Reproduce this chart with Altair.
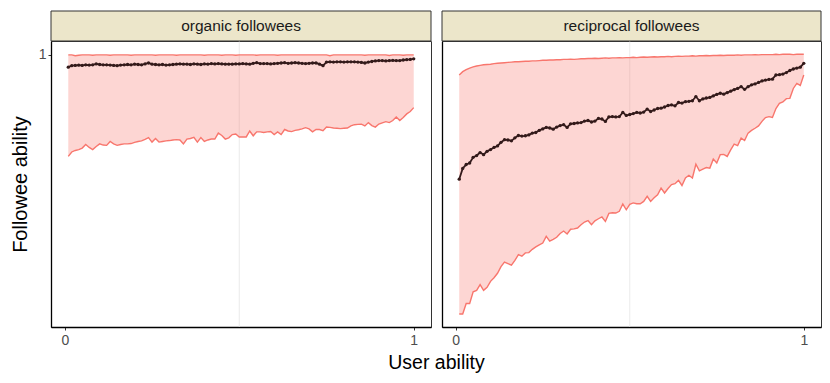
import altair as alt
import pandas as pd

PANELS = ["organic followees", "reciprocal followees"]
X_TITLE = "User ability"
Y_TITLE = "Followee ability"
X_TICKS = [0, 1]
Y_TICKS = [1]
MINOR_X = [0.5]

X = [round(i / 100, 2) for i in range(1, 101)]

ORG_UPPER = [0.999,0.999,0.996,0.998,0.999,0.999,0.999,0.998,0.999,0.999,
0.999,0.999,0.998,0.999,0.999,0.999,0.999,0.999,0.998,0.999,
0.999,0.999,0.999,0.999,0.999,0.998,0.999,0.999,0.999,0.999,
0.999,0.998,0.999,0.999,0.999,0.999,0.999,0.999,0.999,0.998,
0.999,0.999,0.999,0.999,0.998,0.999,0.999,0.999,0.998,0.999,
0.999,0.999,0.999,0.999,0.998,0.999,0.999,0.999,0.999,0.999,
0.998,0.999,0.999,0.999,0.999,0.999,0.999,0.999,0.999,0.999,
0.999,0.999,0.999,0.999,0.999,0.996,0.999,0.999,0.999,0.999,
0.999,0.999,0.999,0.999,0.999,0.998,0.999,0.999,0.999,0.999,
0.999,0.999,0.997,0.999,0.999,0.999,0.998,0.999,0.999,0.999]

ORG_MEAN = [0.958,0.963,0.964,0.965,0.964,0.966,0.965,0.966,0.969,0.967,
0.966,0.966,0.965,0.964,0.963,0.965,0.966,0.967,0.966,0.968,
0.967,0.966,0.969,0.972,0.968,0.967,0.966,0.967,0.965,0.966,
0.967,0.968,0.969,0.968,0.968,0.967,0.969,0.968,0.967,0.969,
0.968,0.970,0.969,0.970,0.969,0.968,0.968,0.968,0.969,0.969,
0.970,0.969,0.968,0.971,0.973,0.970,0.970,0.970,0.969,0.970,
0.971,0.972,0.973,0.971,0.972,0.973,0.972,0.971,0.970,0.971,
0.972,0.972,0.968,0.963,0.975,0.976,0.975,0.976,0.976,0.975,
0.976,0.976,0.976,0.975,0.974,0.972,0.975,0.977,0.979,0.980,
0.980,0.979,0.980,0.981,0.980,0.980,0.982,0.983,0.984,0.986]

ORG_LOWER = [0.660,0.675,0.680,0.683,0.688,0.700,0.690,0.683,0.693,0.702,
0.698,0.697,0.710,0.702,0.697,0.700,0.702,0.702,0.703,0.707,
0.710,0.712,0.717,0.723,0.708,0.720,0.708,0.710,0.712,0.713,
0.715,0.716,0.715,0.702,0.718,0.720,0.724,0.708,0.723,0.710,
0.715,0.718,0.718,0.738,0.730,0.718,0.722,0.733,0.735,0.725,
0.725,0.725,0.745,0.729,0.742,0.742,0.740,0.742,0.743,0.733,
0.742,0.733,0.750,0.745,0.743,0.747,0.749,0.752,0.756,0.752,
0.742,0.750,0.750,0.746,0.758,0.757,0.755,0.754,0.753,0.754,
0.755,0.762,0.766,0.767,0.768,0.762,0.773,0.763,0.758,0.768,
0.772,0.776,0.773,0.780,0.792,0.780,0.790,0.802,0.810,0.823]

REC_UPPER = [0.932,0.943,0.950,0.955,0.959,0.962,0.964,0.966,0.967,0.968,
0.970,0.971,0.972,0.973,0.974,0.975,0.976,0.976,0.977,0.978,
0.978,0.979,0.979,0.980,0.981,0.981,0.982,0.982,0.983,0.983,
0.984,0.984,0.985,0.984,0.985,0.986,0.986,0.987,0.987,0.988,
0.987,0.988,0.989,0.988,0.989,0.989,0.990,0.989,0.990,0.990,
0.991,0.990,0.991,0.992,0.991,0.992,0.993,0.992,0.993,0.993,
0.994,0.993,0.994,0.995,0.994,0.995,0.995,0.996,0.995,0.996,
0.996,0.997,0.996,0.997,0.997,0.998,0.997,0.998,0.998,0.998,
0.999,0.998,0.999,0.999,0.999,1.000,0.999,1.000,1.000,1.000,
1.000,1.001,1.000,1.001,1.001,1.001,1.000,1.001,1.001,1.001]

REC_MEAN = [0.584,0.620,0.633,0.638,0.657,0.663,0.673,0.666,0.677,0.683,
0.690,0.695,0.707,0.716,0.715,0.712,0.722,0.730,0.728,0.729,
0.732,0.738,0.740,0.747,0.752,0.757,0.755,0.751,0.758,0.763,
0.766,0.757,0.769,0.770,0.772,0.773,0.778,0.780,0.775,0.778,
0.787,0.785,0.777,0.792,0.793,0.792,0.793,0.807,0.797,0.800,
0.803,0.807,0.805,0.808,0.818,0.810,0.815,0.820,0.821,0.825,
0.830,0.832,0.829,0.840,0.838,0.843,0.844,0.846,0.860,0.846,
0.852,0.855,0.857,0.862,0.867,0.871,0.868,0.873,0.878,0.883,
0.887,0.893,0.884,0.893,0.899,0.902,0.907,0.912,0.915,0.917,
0.918,0.932,0.933,0.935,0.940,0.947,0.952,0.955,0.958,0.971]

REC_LOWER = [0.134,0.134,0.169,0.169,0.208,0.213,0.232,0.213,0.223,0.243,
0.255,0.270,0.292,0.307,0.302,0.297,0.313,0.332,0.327,0.338,
0.339,0.350,0.358,0.365,0.371,0.393,0.377,0.383,0.390,0.403,
0.411,0.401,0.417,0.418,0.421,0.432,0.441,0.446,0.432,0.445,
0.452,0.458,0.443,0.470,0.472,0.471,0.477,0.501,0.482,0.500,
0.505,0.502,0.502,0.510,0.527,0.510,0.522,0.532,0.554,0.538,
0.553,0.566,0.569,0.580,0.563,0.588,0.597,0.588,0.634,0.612,
0.618,0.623,0.621,0.651,0.638,0.666,0.667,0.660,0.682,0.701,
0.696,0.721,0.713,0.738,0.747,0.754,0.762,0.777,0.790,0.793,
0.790,0.820,0.837,0.842,0.853,0.854,0.887,0.904,0.897,0.932]

FONT = "Liberation Sans"
RED = "#F8766D"
DARK = "#331A1A"
STRIP_FILL = "#ECE6CA"
H = 286
X_DOMAIN = [-0.0395, 1.0495]
Y_DOMAIN = [0.0906, 1.0454]
LABEL_SIZE = 14


def panel(name, lower, upper, mean, width, first):
    df = pd.DataFrame({"x": X, "lower": lower, "upper": upper, "mean": mean})
    xs = alt.Scale(domain=X_DOMAIN, nice=False, zero=False)
    ys = alt.Scale(domain=Y_DOMAIN, nice=False, zero=False)
    xaxis = alt.Axis(values=X_TICKS, format="d", title=None, grid=False,
                     tickSize=3, labelPadding=3, labelFontSize=LABEL_SIZE,
                     labelColor="#4D4D4D", labelFont=FONT)
    if first:
        yaxis = alt.Axis(values=Y_TICKS, format="d", title=Y_TITLE, grid=False,
                         tickSize=3, labelPadding=2, titlePadding=8,
                         labelFontSize=LABEL_SIZE, labelColor="#4D4D4D",
                         labelFont=FONT)
    else:
        yaxis = alt.Axis(values=Y_TICKS, title=None, grid=False, labels=False,
                         ticks=False)
    xe = alt.X("x:Q", scale=xs, axis=xaxis)
    base = alt.Chart(df)
    grid = alt.Chart(pd.DataFrame({"x": MINOR_X})).mark_rule(
        color="#E6E6E6", strokeWidth=0.8
    ).encode(x=xe, y=alt.value(0), y2=alt.value(H))
    area = base.mark_area(color=RED, opacity=0.3).encode(
        x=xe, y=alt.Y("lower:Q", scale=ys, axis=yaxis), y2="upper:Q")
    lo = base.mark_line(color=RED, strokeWidth=1.4).encode(
        x=xe, y=alt.Y("lower:Q", scale=ys, axis=yaxis))
    hi = base.mark_line(color=RED, strokeWidth=1.4).encode(
        x=xe, y=alt.Y("upper:Q", scale=ys, axis=yaxis))
    ml = base.mark_line(color=DARK, strokeWidth=1.8).encode(
        x=xe, y=alt.Y("mean:Q", scale=ys, axis=yaxis))
    mp = base.mark_point(filled=True, size=11, color=DARK, opacity=1).encode(
        x=xe, y=alt.Y("mean:Q", scale=ys, axis=yaxis))
    sdf = pd.DataFrame({"label": [name]})
    strip = alt.Chart(sdf).mark_rect(fill=STRIP_FILL, stroke="#333333",
                                     strokeWidth=1).encode(
        x=alt.value(0), x2=alt.value(width), y=alt.value(-30), y2=alt.value(0))
    stext = alt.Chart(sdf).mark_text(font=FONT, fontSize=15.5, color="#1A1A1A",
                                     baseline="middle", align="center").encode(
        text="label:N", x=alt.value(width / 2), y=alt.value(-15))
    layers = [grid, area, lo, hi, ml, mp, strip, stext]
    if first:
        tdf = pd.DataFrame({"t": [X_TITLE]})
        xt = alt.Chart(tdf).mark_text(font=FONT, fontSize=19.5, color="black",
                                      baseline="alphabetic", align="center").encode(
            text="t:N", x=alt.value(width + 5.5), y=alt.value(H + 42))
        layers.append(xt)
    return alt.layer(*layers).properties(width=width, height=H)


left = panel(PANELS[0], ORG_LOWER, ORG_UPPER, ORG_MEAN, 380, True)
right = panel(PANELS[1], REC_LOWER, REC_UPPER, REC_MEAN, 379, False)

chart = alt.hconcat(left, right, spacing=11, bounds="flush").properties(
    padding={"left": 1, "top": 2, "right": 0, "bottom": 0}
).configure_view(stroke="#333333", strokeWidth=1).configure_axis(
    domainColor="black", domainWidth=1.3, tickColor="#333333", tickWidth=1,
    labelFont=FONT, labelFontSize=LABEL_SIZE, labelColor="#4D4D4D",
    titleFont=FONT, titleFontSize=20, titleFontWeight="normal", titleColor="black"
)

chart.save("out.html", embed_options={"renderer": "svg", "actions": False})
